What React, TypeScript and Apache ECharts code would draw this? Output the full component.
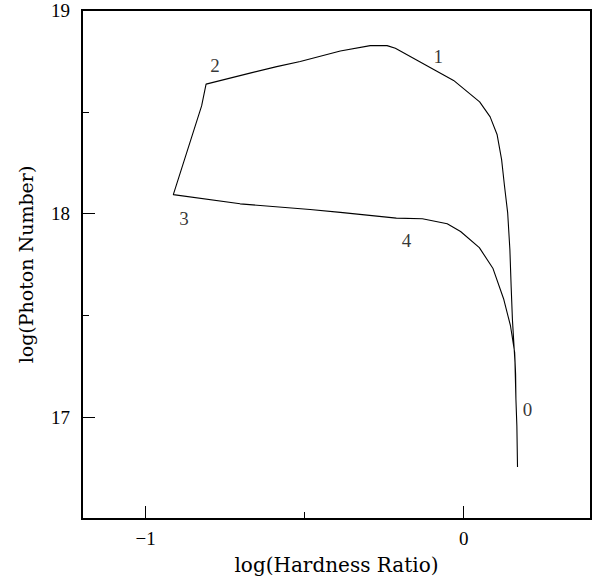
import React, { useEffect, useRef } from "react";
import * as echarts from "echarts";

// Track in the (log hardness ratio, log photon number) plane, in drawing order
const hardness = [
  0.169, 0.167, 0.164, 0.161, 0.153, 0.149, 0.145, 0.138, 0.128, 0.119, 0.105, 0.083, 0.05,
  -0.032, -0.215, -0.241, -0.294, -0.388, -0.514, -0.588, -0.672, -0.81, -0.824, -0.913,
  -0.703, -0.483, -0.388, -0.212, -0.13, -0.052, -0.01, 0.049, 0.092, 0.126, 0.147, 0.16,
  0.163, 0.164, 0.167,
];
const photons = [
  16.755, 16.956, 17.088, 17.27, 17.48, 17.642, 17.824, 18.005, 18.137, 18.265, 18.387, 18.475,
  18.549, 18.654, 18.812, 18.825, 18.825, 18.799, 18.747, 18.722, 18.69, 18.636, 18.529, 18.093,
  18.048, 18.02, 18.006, 17.978, 17.975, 17.95, 17.912, 17.833, 17.73, 17.578, 17.448, 17.319,
  17.211, 17.088, 16.956,
];

// Phase labels
const phaseNames = ["0", "1", "2", "3", "4"];
const phaseX = [0.2, -0.08, -0.782, -0.879, -0.18];
const phaseY = [17.039, 18.77, 18.725, 17.975, 17.868];

// Axis ticks
const xMajor = [-1, 0];
const xMinor = [-0.5];
const yMajor = [17, 18, 19];
const yMinor = [16.5, 17.5, 18.5];

export default function App() {
  const ref = useRef<HTMLDivElement>(null);
  useEffect(() => {
    if (!ref.current) return;
    const chart = echarts.init(ref.current, undefined, { renderer: "svg" });
    const serif = "DejaVu Serif";
    const tickFont = "Liberation Serif";
    const hiddenLine = { show: false, onZero: false };
    chart.setOption({
      animation: false,
      backgroundColor: "#ffffff",
      grid: {
        left: 82,
        right: 9,
        top: 10,
        bottom: 63,
        show: true,
        borderColor: "#000",
        borderWidth: 2,
        outerBoundsMode: "none",
        containLabel: false,
      },
      xAxis: [
        {
          type: "value",
          min: -1.2,
          max: 0.4,
          position: "bottom",
          name: "log(Hardness Ratio)",
          nameLocation: "middle",
          nameGap: 36,
          nameTextStyle: { fontFamily: serif, fontSize: 20, color: "#000" },
          axisLine: hiddenLine,
          splitLine: { show: false },
          axisTick: {
            show: true,
            inside: true,
            length: 13,
            customValues: xMajor,
            lineStyle: { color: "#000", width: 1 },
          },
          axisLabel: {
            customValues: xMajor,
            formatter: (v: number) => (v < 0 ? "\u2212" + Math.abs(v) : String(v)),
            fontFamily: tickFont,
            fontSize: 19,
            color: "#000",
            margin: 10,
          },
        },
        {
          type: "value",
          min: -1.2,
          max: 0.4,
          position: "bottom",
          axisLine: hiddenLine,
          splitLine: { show: false },
          axisLabel: { show: false },
          axisTick: {
            show: true,
            inside: true,
            length: 7,
            customValues: xMinor,
            lineStyle: { color: "#000", width: 1 },
          },
        },
      ],
      yAxis: [
        {
          type: "value",
          min: 16.5,
          max: 19,
          position: "left",
          name: "log(Photon Number)",
          nameLocation: "middle",
          nameGap: 47,
          nameTextStyle: { fontFamily: serif, fontSize: 19, color: "#000" },
          axisLine: hiddenLine,
          splitLine: { show: false },
          axisTick: {
            show: true,
            inside: true,
            length: 13,
            customValues: yMajor,
            lineStyle: { color: "#000", width: 1 },
          },
          axisLabel: {
            customValues: yMajor,
            fontFamily: tickFont,
            fontSize: 19,
            color: "#000",
            margin: 12,
          },
        },
        {
          type: "value",
          min: 16.5,
          max: 19,
          position: "left",
          axisLine: hiddenLine,
          splitLine: { show: false },
          axisLabel: { show: false },
          axisTick: {
            show: true,
            inside: true,
            length: 7,
            customValues: yMinor,
            lineStyle: { color: "#000", width: 1 },
          },
        },
      ],
      series: [
        {
          type: "line",
          xAxisIndex: 0,
          yAxisIndex: 0,
          data: hardness.map((x, i) => [x, photons[i]]),
          showSymbol: false,
          symbol: "none",
          lineStyle: { color: "#000", width: 1.1 },
          silent: true,
        },
        {
          type: "scatter",
          xAxisIndex: 0,
          yAxisIndex: 0,
          symbolSize: 0,
          data: phaseNames.map((n, i) => ({ value: [phaseX[i], phaseY[i]], name: n })),
          label: {
            show: true,
            position: "inside",
            formatter: (p: any) => p.name,
            fontFamily: tickFont,
            fontSize: 19,
            color: "#000",
          },
          emphasis: { disabled: true },
          silent: true,
        },
      ],
    });
    return () => chart.dispose();
  }, []);
  return (
    <div
      ref={ref}
      style={{ position: "fixed", left: 0, top: 0, width: 600, height: 582, background: "#fff" }}
    />
  );
}
